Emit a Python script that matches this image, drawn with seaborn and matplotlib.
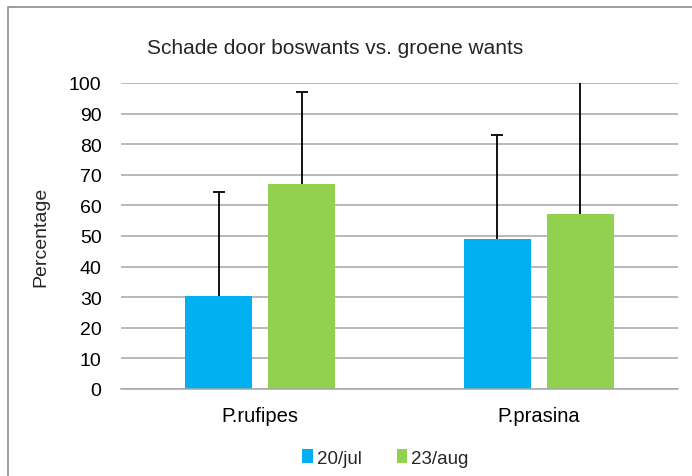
import matplotlib
matplotlib.use("Agg")
import matplotlib.pyplot as plt
import seaborn as sns
import pandas as pd
from matplotlib.patches import Rectangle, Patch

species = ["P.rufipes", "P.prasina"]
dates = ["20/jul", "23/aug"]
values_jul = [30.4, 48.9]
values_aug = [67.0, 57.3]
err_jul = [33.9, 34.2]
err_aug = [30.1, 45.0]
yticks = [0, 10, 20, 30, 40, 50, 60, 70, 80, 90, 100]

colors = {"20/jul": "#00B0F0", "23/aug": "#92D050"}

df = pd.DataFrame({
    "species": species * 2,
    "date": [dates[0]] * 2 + [dates[1]] * 2,
    "value": values_jul + values_aug,
})

sns.set_theme(style="white")
plt.rcParams["font.family"] = ["Liberation Sans", "DejaVu Sans"]

fig = plt.figure(figsize=(6.92, 4.77), dpi=100)
ax = fig.add_axes([121 / 692, 1 - 390 / 477, (678 - 121) / 692, (390 - 84) / 477])

sns.barplot(data=df, x="species", y="value", hue="date", order=species,
            hue_order=dates, palette=colors, width=0.596, gap=0.193,
            errorbar=None, ax=ax, legend=False, saturation=1, linewidth=0)

errs = [err_jul, err_aug]
for cont, err in zip(ax.containers, errs):
    xs = [b.get_x() + b.get_width() / 2 for b in cont]
    hs = [b.get_height() for b in cont]
    line, caps, bars = ax.errorbar(xs, hs, yerr=[[0] * len(err), err], fmt="none",
                                   ecolor="black", elinewidth=1.3, capsize=4,
                                   capthick=1.3, zorder=3)
    if len(caps) == 2:
        caps[0].set_visible(False)

ax.set_ylim(0, 100)
ax.set_xlim(-0.5, 1.5)
ax.set_yticks(yticks)
ax.yaxis.grid(True, color="#A6A6A6", linewidth=1.1)
ax.set_axisbelow(True)
for s in ["top", "right", "left"]:
    ax.spines[s].set_visible(False)
ax.spines["bottom"].set_color("#A6A6A6")
ax.spines["bottom"].set_linewidth(1.1)
ax.tick_params(axis="y", length=0, labelsize=14, colors="black", pad=14)
ax.tick_params(axis="x", length=0, labelsize=14.5, colors="black", pad=12)
ax.set_xlabel("")
ax.set_ylabel("Percentage", fontsize=14, labelpad=14)

fig.text(0.485, 1 - 48 / 477, "Schade door boswants vs. groene wants",
         ha="center", va="center", fontsize=15)

handles = [Patch(facecolor=colors[d], edgecolor="none") for d in dates]
fig.legend(handles, dates, loc="center", bbox_to_anchor=(0.557, 1 - 459 / 477),
           ncol=2, frameon=False, fontsize=13.5, handlelength=0.55, handleheight=0.7,
           handletextpad=0.2, columnspacing=1.9)

fig.patches.append(Rectangle((8 / 692, -0.1), 1.2, 1.1 - 7.5 / 477, transform=fig.transFigure,
                             fill=False, edgecolor="#8C8C8C", linewidth=1.2))

fig.savefig("out.png", dpi=100, facecolor="white")
